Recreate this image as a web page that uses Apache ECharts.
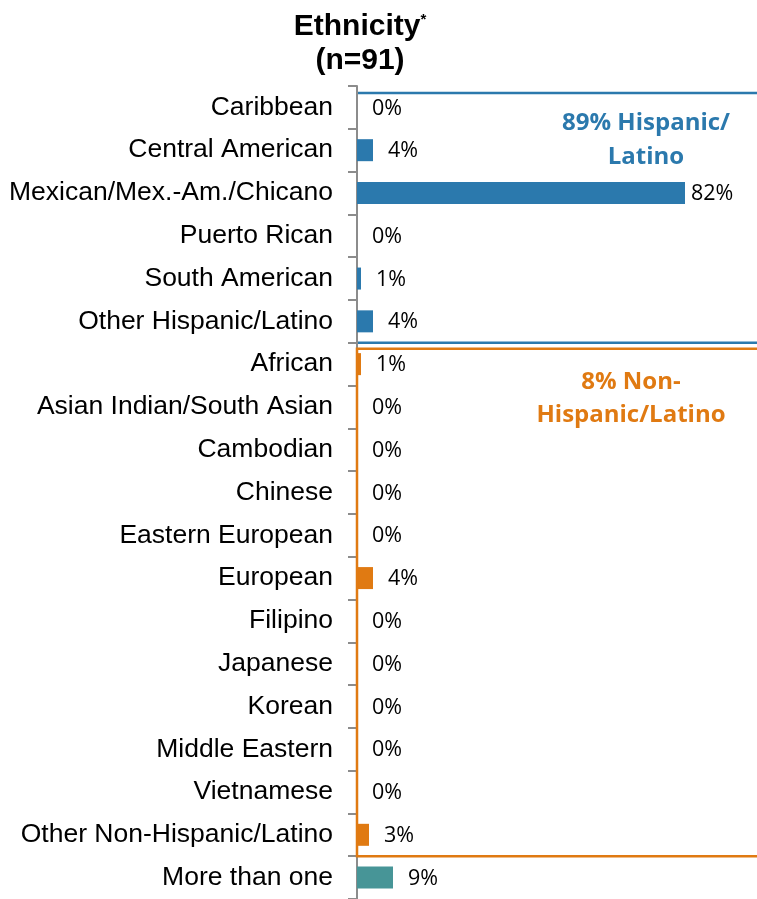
<!DOCTYPE html>
<html>
<head>
<meta charset="utf-8">
<style>
  html, body { margin: 0; padding: 0; background: #ffffff; }
  #chart { width: 757px; height: 899px; }
</style>
<script src="https://cdn.jsdelivr.net/npm/echarts@6/dist/echarts.min.js"></script>
</head>
<body>
<div id="chart"></div>
<script>
// Ethnicity breakdown (percent of respondents, n=91)
const hispanicCategories = ['Caribbean', 'Central American', 'Mexican/Mex.-Am./Chicano', 'Puerto Rican', 'South American', 'Other Hispanic/Latino'];
const hispanicValues = [0, 4, 82, 0, 1, 4];

const nonHispanicCategories = ['African', 'Asian Indian/South Asian', 'Cambodian', 'Chinese', 'Eastern European', 'European', 'Filipino', 'Japanese', 'Korean', 'Middle Eastern', 'Vietnamese', 'Other Non-Hispanic/Latino'];
const nonHispanicValues = [1, 0, 0, 0, 0, 4, 0, 0, 0, 0, 0, 3];

const multipleCategories = ['More than one'];
const multipleValues = [9];

const groupTotals = { hispanic: 89, nonHispanic: 8 };

const BLUE = '#2b79ad';
const ORANGE = '#e07a12';
const TEAL = '#479597';

const categories = hispanicCategories.concat(nonHispanicCategories, multipleCategories);

function toItems(values, color) {
  return values.map(v => ({
    value: v,
    itemStyle: { color: color },
    label: v >= 50 ? { distance: 6 } : undefined
  }));
}
const seriesData = toItems(hispanicValues, BLUE)
  .concat(toItems(nonHispanicValues, ORANGE), toItems(multipleValues, TEAL));

const chart = echarts.init(document.getElementById('chart'), null, { renderer: 'canvas' });

chart.setOption({
  animation: false,
  backgroundColor: '#ffffff',
  grid: { left: 357, top: 86, width: 400, height: 817, containLabel: false },
  xAxis: {
    type: 'value', min: 0, max: 100, show: false
  },
  yAxis: {
    type: 'category',
    data: categories,
    inverse: true,
    axisLine: { show: true, lineStyle: { color: '#8c8c8c', width: 2 } },
    axisTick: { show: true, length: 9, lineStyle: { color: '#8c8c8c', width: 2 } },
    axisLabel: {
      margin: 24,
      fontFamily: 'Liberation Sans',
      fontSize: 26.5,
      color: '#000000'
    }
  },
  series: [{
    type: 'bar',
    data: seriesData,
    barWidth: 22,
    label: {
      show: true,
      position: 'right',
      distance: 15,
      offset: [0, 1],
      formatter: p => p.value + '%',
      fontFamily: 'Open Sans',
      fontSize: 21.5,
      color: '#000000'
    }
  }]
});

// Group boxes and headings, placed from the category axis positions
function rowY(name) { return chart.convertToPixel({ yAxisIndex: 0 }, name); }
const step = rowY(categories[1]) - rowY(categories[0]);
const x0 = chart.convertToPixel({ xAxisIndex: 0 }, 0);

const blueTop = rowY(hispanicCategories[0]) - step / 2 + 7;
const blueBottom = rowY(hispanicCategories[hispanicCategories.length - 1]) + step / 2;
const orangeTop = rowY(nonHispanicCategories[0]) - step / 2 + 6;
const orangeBottom = rowY(nonHispanicCategories[nonHispanicCategories.length - 1]) + step / 2;

chart.setOption({
  graphic: [
    {
      type: 'text', x: 360, y: 27, z: 10,
      style: {
        text: '{t|Ethnicity}{s|*}',
        align: 'center', verticalAlign: 'middle',
        rich: {
          t: { fontFamily: 'Liberation Sans', fontWeight: 'bold', fontSize: 30, fill: '#000000' },
          s: { fontFamily: 'Liberation Sans', fontWeight: 'bold', fontSize: 15, fill: '#000000', verticalAlign: 'top', padding: [0, 0, 14, 0] }
        }
      }
    },
    {
      type: 'text', x: 360, y: 61, z: 10,
      style: {
        text: '(n=91)', align: 'center', verticalAlign: 'middle',
        fontFamily: 'Liberation Sans', fontWeight: 'bold', fontSize: 30, fill: '#000000'
      }
    },
    {
      type: 'polyline', z: 5,
      shape: { points: [[x0 + 1, blueTop], [800, blueTop]] },
      style: { stroke: BLUE, lineWidth: 2.5, fill: null }
    },
    {
      type: 'polyline', z: 5,
      shape: { points: [[x0 + 1, blueBottom], [800, blueBottom]] },
      style: { stroke: BLUE, lineWidth: 2.5, fill: null }
    },
    {
      type: 'rect', z: 5,
      shape: { x: x0, y: orangeTop, width: 450, height: orangeBottom - orangeTop },
      style: { stroke: ORANGE, lineWidth: 2.5, fill: null }
    },
    {
      type: 'text', x: 646, y: 140, z: 10,
      style: {
        text: groupTotals.hispanic + '% Hispanic/\nLatino',
        align: 'center', verticalAlign: 'middle', lineHeight: 34,
        fontFamily: 'Open Sans', fontWeight: 'bold', fontSize: 24, fill: BLUE
      }
    },
    {
      type: 'text', x: 631, y: 399, z: 10,
      style: {
        text: groupTotals.nonHispanic + '% Non-\nHispanic/Latino',
        align: 'center', verticalAlign: 'middle', lineHeight: 33,
        fontFamily: 'Open Sans', fontWeight: 'bold', fontSize: 24, fill: ORANGE
      }
    }
  ]
});
</script>
</body>
</html>
